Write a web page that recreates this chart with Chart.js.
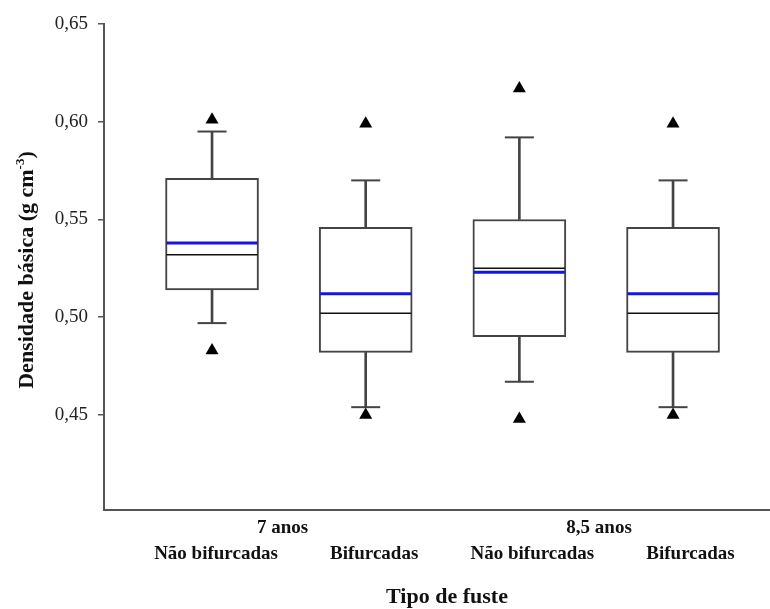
<!DOCTYPE html>
<html>
<head>
<meta charset="utf-8">
<script src="https://cdn.jsdelivr.net/npm/chart.js@4"></script>
<style>
  html, body { margin: 0; padding: 0; background: #fff; }
  #wrap { width: 770px; height: 609px; }
</style>
</head>
<body>
<div id="wrap"><canvas id="c" width="770" height="609"></canvas></div>
<script>
// Basic density of wood by stem type and age
const groups = ['7 anos', '8,5 anos'];
const categories = ['Não bifurcadas', 'Bifurcadas', 'Não bifurcadas', 'Bifurcadas'];

const q1          = [0.514, 0.482, 0.490, 0.482];
const q3          = [0.571, 0.546, 0.550, 0.546];
const median      = [0.532, 0.502, 0.525, 0.502];
const mean        = [0.538, 0.512, 0.523, 0.512];
const whiskerLow  = [0.497, 0.454, 0.467, 0.454];
const whiskerHigh = [0.595, 0.570, 0.592, 0.570];
const outlierLow  = [0.483, 0.450, 0.448, 0.450];
const outlierHigh = [0.601, 0.599, 0.617, 0.599];

const yTickValues = [0.45, 0.50, 0.55, 0.60, 0.65];

const xTitle = 'Tipo de fuste';
const yTitle = ['Densidade básica (g cm', '-3', ')'];

// positions along the x scale: one slot per box
const slot = categories.map((_, i) => i + 1);
const groupSlot = groups.map((_, g) => 2 * g + 1.5);

const pts = arr => arr.map((v, i) => ({ x: slot[i], y: v }));
const ranges = (lo, hi) => lo.map((v, i) => ({ x: slot[i], y: [v, hi[i]] }));

const SERIF = '"Liberation Serif", "Times New Roman", serif';
const LINE = '#444';

// fixed axis sizes so the plot area sits where the layout wants it
const fixSize = (w, h) => s => {
  if (w !== null) s.width = w;
  if (h !== null) s.height = h;
  s.paddingLeft = s.paddingRight = s.paddingTop = s.paddingBottom = 0;
};

const axisTitles = {
  id: 'axisTitles',
  afterDraw(chart) {
    const { ctx, chartArea } = chart;
    ctx.save();
    ctx.fillStyle = '#111';
    ctx.textBaseline = 'alphabetic';

    // x title
    ctx.font = 'bold 22px ' + SERIF;
    ctx.textAlign = 'center';
    ctx.fillText(xTitle, 447, 603);

    // y title with superscript exponent
    ctx.textAlign = 'left';
    ctx.font = 'bold 22px ' + SERIF;
    const wMain = ctx.measureText(yTitle[0]).width;
    const wClose = ctx.measureText(yTitle[2]).width;
    ctx.font = 'bold 13px ' + SERIF;
    const wSup = ctx.measureText(yTitle[1]).width;
    const total = wMain + wSup + wClose;
    ctx.translate(33, (chartArea.top + chartArea.bottom) / 2 + 3);
    ctx.rotate(-Math.PI / 2);
    const x0 = -total / 2;
    ctx.font = 'bold 22px ' + SERIF;
    ctx.fillText(yTitle[0], x0, 0);
    ctx.font = 'bold 13px ' + SERIF;
    ctx.fillText(yTitle[1], x0 + wMain, -9);
    ctx.font = 'bold 22px ' + SERIF;
    ctx.fillText(yTitle[2], x0 + wMain + wSup, 0);
    ctx.restore();
  }
};

new Chart(document.getElementById('c'), {
  type: 'bar',
  data: {
    datasets: [
      { type: 'line', data: pts(outlierHigh), showLine: false, pointStyle: 'triangle', pointRadius: 7.5,
        backgroundColor: '#000', borderColor: '#000', borderWidth: 0, xAxisID: 'x', yAxisID: 'y' },
      { type: 'line', data: pts(outlierLow), showLine: false, pointStyle: 'triangle', pointRadius: 7.5,
        backgroundColor: '#000', borderColor: '#000', borderWidth: 0, xAxisID: 'x', yAxisID: 'y' },
      { type: 'line', data: pts(mean), showLine: false, pointStyle: 'line', pointRadius: 45.5,
        borderColor: '#1414e6', borderWidth: 3, xAxisID: 'x', yAxisID: 'y' },
      { type: 'line', data: pts(median), showLine: false, pointStyle: 'line', pointRadius: 45.5,
        borderColor: '#111', borderWidth: 1.5, xAxisID: 'x', yAxisID: 'y' },
      { type: 'line', data: pts(whiskerHigh), showLine: false, pointStyle: 'line', pointRadius: 14.5,
        borderColor: LINE, borderWidth: 2, xAxisID: 'x', yAxisID: 'y' },
      { type: 'line', data: pts(whiskerLow), showLine: false, pointStyle: 'line', pointRadius: 14.5,
        borderColor: LINE, borderWidth: 2, xAxisID: 'x', yAxisID: 'y' },
      { data: ranges(q3, whiskerHigh), grouped: false, barThickness: 2,
        backgroundColor: LINE, borderWidth: 0, xAxisID: 'x', yAxisID: 'y' },
      { data: ranges(whiskerLow, q1), grouped: false, barThickness: 2,
        backgroundColor: LINE, borderWidth: 0, xAxisID: 'x', yAxisID: 'y' },
      { data: ranges(q1, q3), grouped: false, barThickness: 93,
        backgroundColor: '#fff', borderColor: LINE, borderWidth: 2, borderSkipped: false,
        xAxisID: 'x', yAxisID: 'y' }
    ]
  },
  options: {
    responsive: false,
    animation: false,
    devicePixelRatio: 1,
    layout: { autoPadding: false, padding: { top: 24, right: 0, bottom: 0, left: 0 } },
    plugins: { legend: { display: false }, tooltip: { enabled: false } },
    scales: {
      x: {
        type: 'linear', axis: 'x', position: 'bottom', offset: false,
        min: 0.297, max: 4.631, display: false,
        grid: { offset: false }
      },
      xg: {
        type: 'linear', axis: 'x', position: 'bottom', weight: 0, offset: false,
        min: 0.372, max: 4.58,
        afterBuildTicks: s => { s.ticks = groupSlot.map(v => ({ value: v })); },
        afterFit: fixSize(null, 30),
        grid: { display: false, drawTicks: false, offset: false },
        border: { display: true, color: '#555', width: 2 },
        ticks: {
          autoSkip: false, maxRotation: 0, minRotation: 0, padding: 7,
          color: '#111', font: { family: SERIF, size: 19, weight: 'bold' },
          callback: (v, i) => groups[i]
        }
      },
      xc: {
        type: 'linear', axis: 'x', position: 'bottom', weight: 1, offset: false,
        min: 0.2919, max: 4.5026,
        afterBuildTicks: s => { s.ticks = slot.map(v => ({ value: v })); },
        afterFit: fixSize(null, 69),
        grid: { display: false, drawTicks: false, offset: false },
        border: { display: false },
        ticks: {
          autoSkip: false, maxRotation: 0, minRotation: 0, padding: 3,
          color: '#111', font: { family: SERIF, size: 19, weight: 'bold' },
          callback: (v, i) => categories[i]
        }
      },
      y: {
        type: 'linear', position: 'left', min: 0.4014, max: 0.65,
        afterBuildTicks: s => { s.ticks = yTickValues.map(v => ({ value: v })); },
        afterFit: fixSize(104, null),
        grid: { drawOnChartArea: false, drawTicks: true, tickLength: 6, color: '#555', lineWidth: 1.5 },
        border: { display: true, color: '#555', width: 2 },
        ticks: {
          padding: 10, color: '#222', font: { family: SERIF, size: 19 },
          callback: v => v.toFixed(2).replace('.', ',')
        }
      }
    }
  },
  plugins: [axisTitles]
});
</script>
</body>
</html>
